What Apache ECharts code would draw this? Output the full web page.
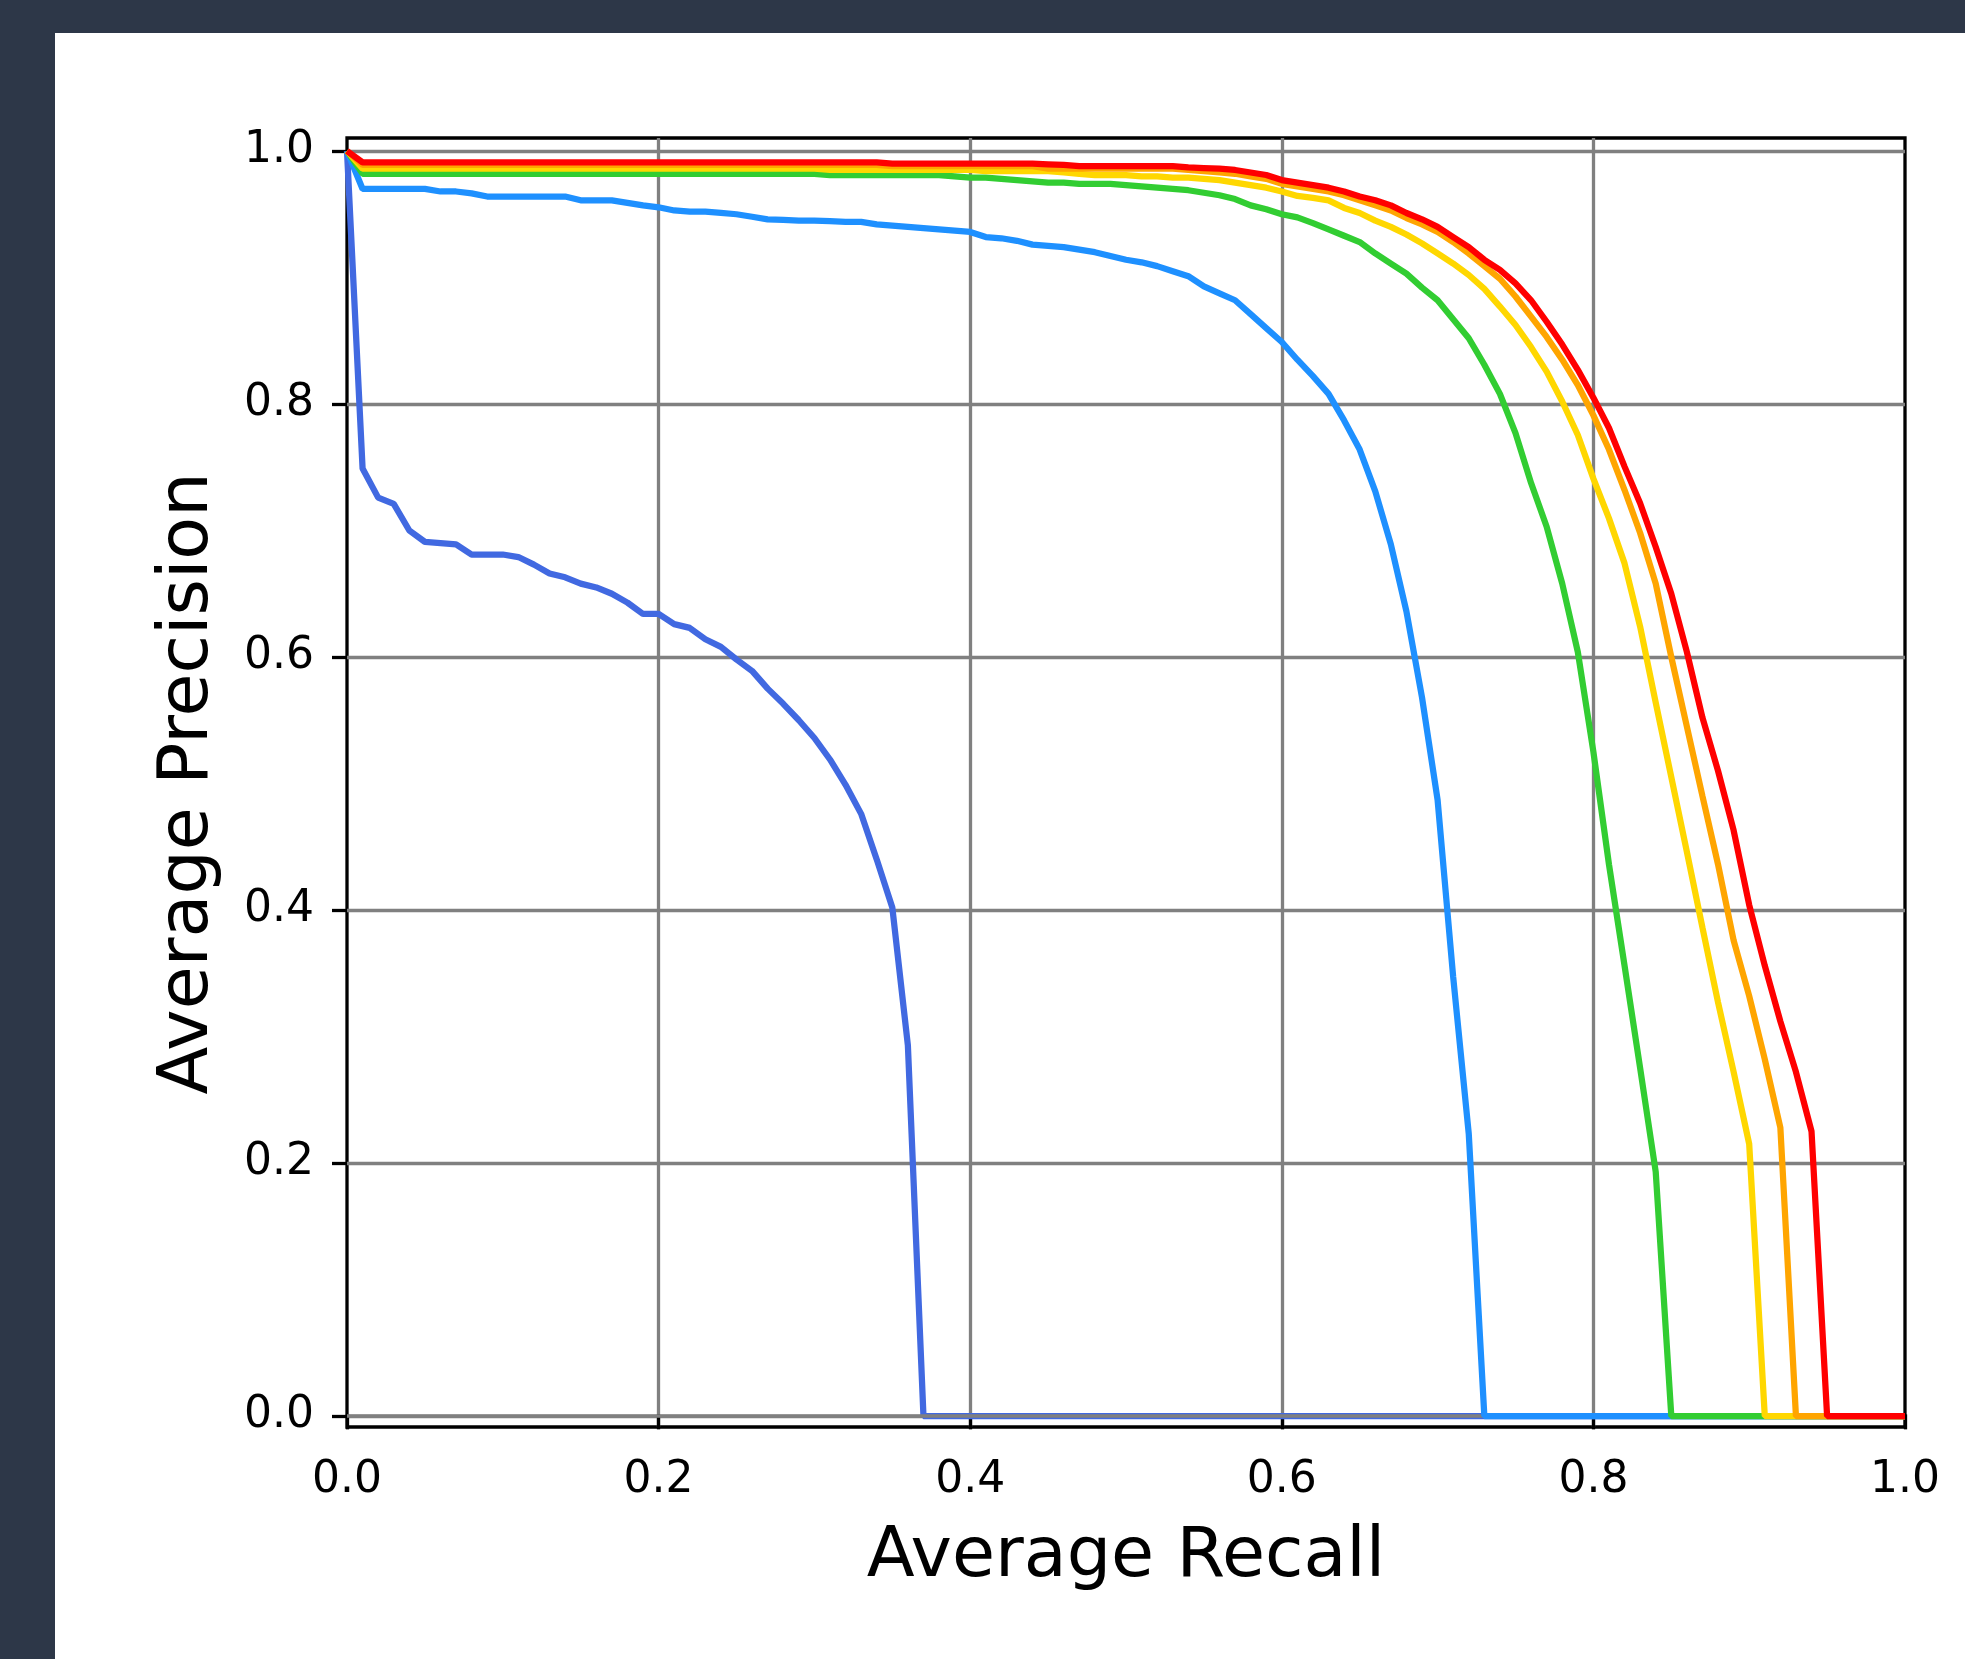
<!DOCTYPE html>
<html>
<head>
<meta charset="utf-8">
<title>PR curves</title>
<script src="https://cdn.jsdelivr.net/npm/echarts@6/dist/echarts.min.js"></script>
<style>
  html, body { margin: 0; padding: 0; width: 1965px; height: 1659px; background: #2d3748; overflow: hidden; }
  #chart { position: absolute; left: 55px; top: 33px; width: 1910px; height: 1626px; background: #ffffff; }
</style>
</head>
<body>
<div id="chart"></div>
<script>
// recall thresholds (x)
var recall = [0.00,0.01,0.02,0.03,0.04,0.05,0.06,0.07,0.08,0.09,
  0.10,0.11,0.12,0.13,0.14,0.15,0.16,0.17,0.18,0.19,
  0.20,0.21,0.22,0.23,0.24,0.25,0.26,0.27,0.28,0.29,
  0.30,0.31,0.32,0.33,0.34,0.35,0.36,0.37,0.38,0.39,
  0.40,0.41,0.42,0.43,0.44,0.45,0.46,0.47,0.48,0.49,
  0.50,0.51,0.52,0.53,0.54,0.55,0.56,0.57,0.58,0.59,
  0.60,0.61,0.62,0.63,0.64,0.65,0.66,0.67,0.68,0.69,
  0.70,0.71,0.72,0.73,0.74,0.75,0.76,0.77,0.78,0.79,
  0.80,0.81,0.82,0.83,0.84,0.85,0.86,0.87,0.88,0.89,
  0.90,0.91,0.92,0.93,0.94,0.95,0.96,0.97,0.98,0.99,1.00];

// precision curves
var royalblueP = [1.0,0.749,0.726,0.721,0.700,0.691,0.690,0.689,0.681,0.681,
  0.681,0.679,0.673,0.666,0.663,0.658,0.655,0.650,0.643,0.634,
  0.634,0.626,0.623,0.614,0.608,0.598,0.589,0.575,0.563,0.550,
  0.536,0.519,0.499,0.476,0.440,0.402,0.293,0,0,0,
  0,0,0,0,0,0,0,0,0,0, 0,0,0,0,0,0,0,0,0,0,
  0,0,0,0,0,0,0,0,0,0, 0,0,0,0,0,0,0,0,0,0,
  0,0,0,0,0,0,0,0,0,0, 0,0,0,0,0,0,0,0,0,0,0];

var greyP = [0,0,0,0,0,0,0,0,0,0, 0,0,0,0,0,0,0,0,0,0,
  0,0,0,0,0,0,0,0,0,0, 0,0,0,0,0,0,0,0,0,0,
  0,0,0,0,0,0,0,0,0,0, 0,0,0,0,0,0,0,0,0,0,
  0,0,0,0,0,0,0,0,0,0, 0,0,0,0,0,0,0,0,0,0,
  0,0,0,0,0,0,0,0,0,0, 0,0,0,0,0,0,0,0,0,0,0];

var dodgerblueP = [1.0,0.970,0.970,0.970,0.970,0.970,0.968,0.968,0.9665,0.964,
  0.964,0.964,0.964,0.964,0.964,0.961,0.961,0.961,0.959,0.957,
  0.9555,0.953,0.952,0.952,0.951,0.950,0.948,0.946,0.9455,0.945,
  0.945,0.9445,0.944,0.944,0.942,0.941,0.940,0.939,0.938,0.937,
  0.936,0.932,0.931,0.929,0.926,0.925,0.924,0.922,0.920,0.917,
  0.914,0.912,0.909,0.905,0.901,0.893,0.8875,0.882,0.871,0.860,
  0.849,0.835,0.822,0.808,0.787,0.764,0.731,0.689,0.636,0.568,
  0.487,0.347,0.223,0,0,0,0,0,0,0,
  0,0,0,0,0,0,0,0,0,0, 0,0,0,0,0,0,0,0,0,0,0];

var limegreenP = [1.0,0.982,0.982,0.982,0.982,0.982,0.982,0.982,0.982,0.982,
  0.982,0.982,0.982,0.982,0.982,0.982,0.982,0.982,0.982,0.982,
  0.982,0.982,0.982,0.982,0.982,0.982,0.982,0.982,0.982,0.982,
  0.982,0.981,0.981,0.981,0.981,0.981,0.981,0.981,0.981,0.980,
  0.979,0.979,0.978,0.977,0.976,0.975,0.975,0.974,0.974,0.974,
  0.973,0.972,0.971,0.970,0.969,0.967,0.965,0.962,0.957,0.954,
  0.950,0.9475,0.943,0.938,0.933,0.928,0.919,0.911,0.903,0.892,
  0.882,0.867,0.852,0.831,0.808,0.777,0.7375,0.703,0.658,0.604,
  0.525,0.436,0.356,0.275,0.193,0,0,0,0,0,
  0,0,0,0,0,0,0,0,0,0,0];

var goldP = [1.0,0.986,0.986,0.986,0.986,0.986,0.986,0.986,0.986,0.986,
  0.986,0.986,0.986,0.986,0.986,0.986,0.986,0.986,0.986,0.986,
  0.986,0.986,0.986,0.986,0.986,0.986,0.986,0.986,0.986,0.986,
  0.986,0.985,0.985,0.985,0.985,0.985,0.985,0.985,0.985,0.985,
  0.985,0.984,0.984,0.984,0.984,0.984,0.983,0.982,0.981,0.981,
  0.981,0.980,0.980,0.979,0.979,0.978,0.977,0.975,0.973,0.971,
  0.968,0.9645,0.963,0.961,0.955,0.951,0.945,0.940,0.934,0.927,
  0.919,0.911,0.902,0.891,0.877,0.8625,0.845,0.8256,0.802,0.7755,
  0.741,0.7096,0.674,0.624,0.564,0.505,0.446,0.386,0.327,0.272,
  0.215,0,0,0,0,0,0,0,0,0,0];

var orangeP = [1.0,0.989,0.989,0.989,0.989,0.989,0.989,0.989,0.989,0.989,
  0.989,0.989,0.989,0.989,0.989,0.989,0.989,0.989,0.989,0.989,
  0.989,0.989,0.989,0.989,0.989,0.989,0.989,0.989,0.989,0.989,
  0.989,0.989,0.989,0.989,0.989,0.988,0.988,0.988,0.988,0.988,
  0.988,0.988,0.988,0.988,0.988,0.986,0.986,0.986,0.986,0.986,
  0.986,0.986,0.986,0.986,0.985,0.984,0.983,0.982,0.980,0.978,
  0.974,0.972,0.970,0.968,0.965,0.961,0.957,0.953,0.947,0.942,
  0.936,0.928,0.919,0.909,0.899,0.885,0.869,0.853,0.835,0.815,
  0.791,0.764,0.732,0.698,0.658,0.600,0.545,0.490,0.436,0.376,
  0.332,0.282,0.228,0,0,0,0,0,0,0,0];

var redP = [1.0,0.991,0.991,0.991,0.991,0.991,0.991,0.991,0.991,0.991,
  0.991,0.991,0.991,0.991,0.991,0.991,0.991,0.991,0.991,0.991,
  0.991,0.991,0.991,0.991,0.991,0.991,0.991,0.991,0.991,0.991,
  0.991,0.991,0.991,0.991,0.991,0.990,0.990,0.990,0.990,0.990,
  0.990,0.990,0.990,0.990,0.990,0.9895,0.989,0.988,0.988,0.988,
  0.988,0.988,0.988,0.988,0.987,0.9865,0.986,0.985,0.983,0.981,
  0.977,0.975,0.973,0.971,0.968,0.964,0.961,0.957,0.951,0.946,
  0.940,0.932,0.924,0.914,0.906,0.8954,0.882,0.865,0.847,0.827,
  0.805,0.781,0.7505,0.7215,0.687,0.650,0.604,0.552,0.510,0.463,
  0.404,0.356,0.312,0.272,0.225,0,0,0,0,0,0];

var xTicks = [0, 0.2, 0.4, 0.6, 0.8, 1.0];
var yTicks = [0, 0.2, 0.4, 0.6, 0.8, 1.0];

function pairs(ys) {
  return recall.map(function (x, i) { return [x, ys[i]]; });
}

var FONT = 'DejaVu Sans';
var chart = echarts.init(document.getElementById('chart'));

function curve(name, ys, color, width) {
  return {
    name: name,
    type: 'line',
    xAxisIndex: 1,
    yAxisIndex: 1,
    data: pairs(ys),
    showSymbol: false,
    clip: false,
    lineStyle: { color: color, width: width || 6.25 },
    emphasis: { disabled: true }
  };
}

var option = {
  animation: false,
  backgroundColor: '#ffffff',
  grid: [
    // frame: the spines
    { left: 292, top: 105, width: 1558, height: 1289, show: true,
      borderColor: '#000000', borderWidth: 3.3, backgroundColor: 'transparent' },
    // data area: 0..1 on both axes
    { left: 292, top: 118, width: 1558, height: 1265 }
  ],
  xAxis: [
    {
      gridIndex: 0, type: 'value', min: xTicks[0], max: xTicks[xTicks.length - 1], interval: 0.2,
      axisLine: { show: false },
      axisTick: { show: true, inside: false, length: 15, lineStyle: { color: '#000', width: 3.3 } },
      axisLabel: { margin: 32, color: '#000', fontFamily: FONT, fontSize: 44,
        formatter: function (v) { return v.toFixed(1); } },
      splitLine: { show: true, showMinLine: false, showMaxLine: false,
        lineStyle: { color: '#808080', width: 3.3 } },
      name: 'Average Recall', nameLocation: 'middle', nameGap: 96,
      nameTextStyle: { color: '#000', fontFamily: FONT, fontSize: 70 }
    },
    { gridIndex: 1, type: 'value', min: 0, max: 1, show: false }
  ],
  yAxis: [
    { gridIndex: 0, type: 'value', min: -0.01, max: 1.01, show: false, splitLine: { show: false } },
    {
      gridIndex: 1, type: 'value', min: yTicks[0], max: yTicks[yTicks.length - 1], interval: 0.2,
      axisLine: { show: false },
      axisTick: { show: true, inside: false, length: 15, lineStyle: { color: '#000', width: 3.3 } },
      axisLabel: { margin: 33, color: '#000', fontFamily: FONT, fontSize: 44,
        formatter: function (v) { return v.toFixed(1); } },
      splitLine: { show: true, lineStyle: { color: '#808080', width: 3.3 } },
      name: 'Average Precision', nameLocation: 'middle', nameGap: 123,
      nameTextStyle: { color: '#000', fontFamily: FONT, fontSize: 70 }
    }
  ],
  series: [
    curve('C1', royalblueP, '#4169e1'),
    curve('zero', greyP, '#808080', 3.3),
    curve('C2', dodgerblueP, '#1e90ff'),
    curve('C3', limegreenP, '#32cd32'),
    curve('C4', goldP, '#ffd700'),
    curve('C5', orangeP, '#ffa500'),
    curve('C6', redP, '#ff0000')
  ]
};

chart.setOption(option);
window.addEventListener('resize', function () { chart.resize(); });
</script>
</body>
</html>
